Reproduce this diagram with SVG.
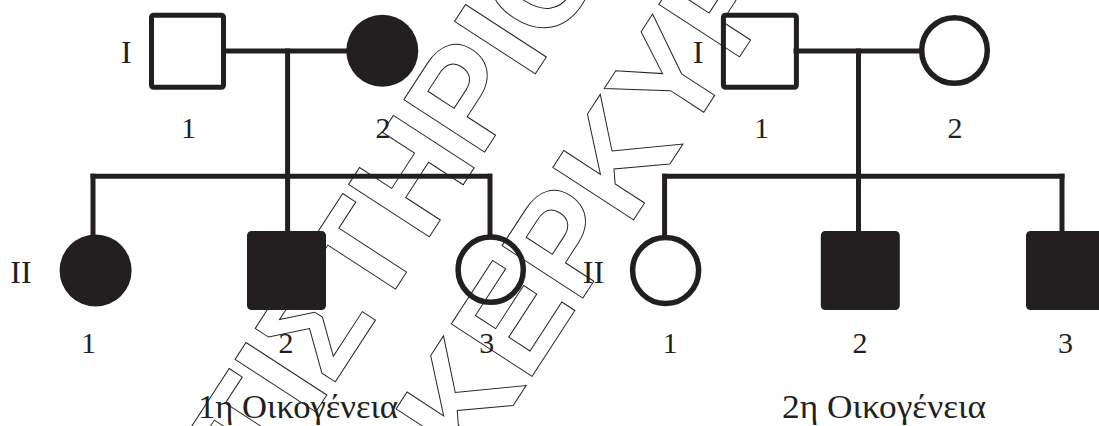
<svg xmlns="http://www.w3.org/2000/svg" width="1099" height="426" viewBox="0 0 1099 426">
  <style>
    .ln { stroke: #231f20; stroke-width: 5; fill: none; stroke-linecap: square; }
    .open { stroke: #231f20; stroke-width: 5.5; fill: none; }
    .sq { stroke: #231f20; stroke-width: 5; fill: none; stroke-linejoin: round; }
    .filled { fill: #231f20; stroke: #231f20; stroke-width: 5; stroke-linejoin: round; }
    .dot { fill: #231f20; }
    .lbl { font-family: "Liberation Serif", "Times New Roman", serif; font-size: 30px; fill: #231f20; text-anchor: middle; }
    .gen { font-family: "Liberation Serif", "Times New Roman", serif; font-size: 32px; fill: #231f20; text-anchor: middle; }
    .cap { font-family: "Liberation Serif", "Times New Roman", serif; font-size: 33px; fill: #231f20; }
    .wm { font-family: "Liberation Sans", Arial, sans-serif; font-weight: bold; font-size: 140px; fill: none; stroke: #231f20; stroke-width: 1; }
  </style>
  <rect width="1099" height="426" fill="#ffffff"/>

  <g id="connectors">
    <line class="ln" x1="224" y1="51" x2="350" y2="51"/>
    <line class="ln" x1="287.6" y1="51" x2="287.6" y2="176"/>
    <line class="ln" x1="93" y1="176.2" x2="489.5" y2="176.2"/>
    <line class="ln" x1="93" y1="176.2" x2="93" y2="236"/>
    <line class="ln" x1="287.6" y1="176.2" x2="287.6" y2="233"/>
    <line class="ln" x1="490" y1="176.2" x2="490" y2="236"/>

    <line class="ln" x1="796" y1="51" x2="921" y2="51"/>
    <line class="ln" x1="858.5" y1="51" x2="858.5" y2="176"/>
    <line class="ln" x1="664.6" y1="176.2" x2="1062" y2="176.2"/>
    <line class="ln" x1="664.6" y1="176.2" x2="664.6" y2="236"/>
    <line class="ln" x1="858.5" y1="176.2" x2="858.5" y2="233"/>
    <line class="ln" x1="1062" y1="176.2" x2="1062" y2="233"/>
  </g>

  <g id="f1-I1"><rect class="sq" x="151.5" y="15.2" width="72" height="72" rx="2"/><text class="lbl" x="188.5" y="138">1</text></g>
  <g id="f1-I2"><circle class="dot" cx="382.3" cy="50.8" r="36"/><text class="lbl" x="383" y="138">2</text></g>
  <g id="f1-II1"><circle class="dot" cx="95.6" cy="270.5" r="36"/><text class="lbl" x="88.5" y="352.5">1</text></g>
  <g id="f1-II2"><rect class="filled" x="249.5" y="233.5" width="74" height="74" rx="2"/><text class="lbl" x="286" y="352.5">2</text></g>
  <g id="f1-II3"><circle class="open" cx="490.7" cy="269.7" r="32.6"/><text class="lbl" x="486.7" y="352.5">3</text></g>

  <g id="f2-I1"><rect class="sq" x="723.4" y="15.2" width="73" height="72" rx="2"/><text class="lbl" x="761.5" y="138">1</text></g>
  <g id="f2-I2"><circle class="open" cx="954.5" cy="50.5" r="32.8"/><text class="lbl" x="955" y="138">2</text></g>
  <g id="f2-II1"><circle class="open" cx="665.6" cy="270.5" r="33"/><text class="lbl" x="670" y="352.5">1</text></g>
  <g id="f2-II2"><rect class="filled" x="823.3" y="233.5" width="74" height="74" rx="2"/><text class="lbl" x="860" y="352.5">2</text></g>
  <g id="f2-II3"><rect class="filled" x="1028.5" y="233.5" width="74" height="74" rx="2"/><text class="lbl" x="1065.5" y="352.5">3</text></g>

  <g id="generation-labels">
    <text class="gen" x="126.3" y="63">I</text>
    <text class="gen" x="21" y="283">II</text>
    <text class="gen" x="698" y="63">I</text>
    <text class="gen" x="593.5" y="283">II</text>
  </g>

  <g id="captions">
    <text class="cap" x="198" y="418" textLength="200" lengthAdjust="spacingAndGlyphs">1η Οικογένεια</text>
    <text class="cap" x="782" y="418" textLength="204" lengthAdjust="spacingAndGlyphs">2η Οικογένεια</text>
  </g>

  <g id="watermark" transform="translate(36.4,842.2) rotate(-57)">
    <text class="wm" x="0" y="0">ΦΡΟΝΤΙΣΤΗΡΙΟ</text>
    <text class="wm" x="550" y="162">ΚΕΡΚΥΡΑΣ</text>
  </g>
</svg>
